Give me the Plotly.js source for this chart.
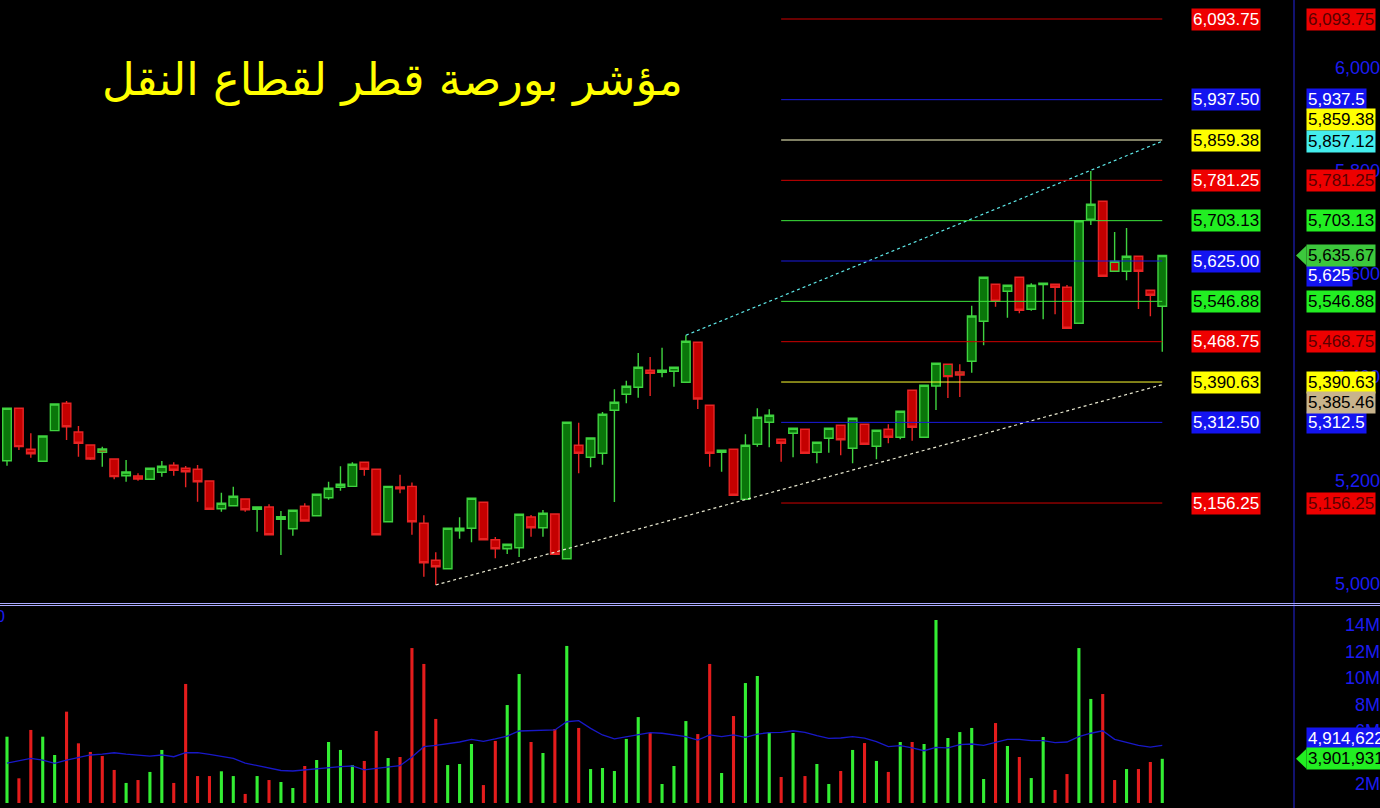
<!DOCTYPE html>
<html><head><meta charset="utf-8">
<script src="https://cdn.plot.ly/plotly-3.0.1.min.js"></script>
<style>html,body{margin:0;padding:0;background:#000;overflow:hidden}#chart{width:1380px;height:808px}</style>
</head><body><div id="chart"></div>
<script>
// ---------------- DATA ----------------
const chartTitle = 'مؤشر بورصة قطر لقطاع النقل';

const openP = [
5238.2,5339.7,5260.3,5237.1,5296.4,5349.4,5293.8,5268.7,5254.5,5241.5,
5209.2,5208.6,5202.2,5215.8,5229.3,5223.5,5221.6,5198.9,5145.3,5151.1,
5164.1,5144.1,5148.6,5124.7,5106.5,5149.9,5131.7,5166.6,5186.7,5188.6,
5235.2,5221.6,5120.1,5187.3,5188.6,5117.0,5045.3,5029.1,5102.7,5107.3,
5157.7,5085.2,5067.8,5069.7,5129.2,5108.5,5135.0,5048.4,5268.1,5244.8,
5252.6,5335.9,5366.9,5380.4,5413.4,5409.5,5411.4,5390.1,5467.6,5345.6,
5254.5,5260.3,5163.5,5270.0,5312.6,5279.7,5291.3,5299.1,5254.5,5281.6,
5306.8,5262.3,5308.7,5266.1,5299.1,5283.6,5374.6,5283.6,5382.9,5425.0,
5410.1,5430.8,5508.3,5579.9,5566.4,5593.5,5531.5,5579.2,5579.9,5574.1,
5504.4,5705.8,5740.7,5605.1,5605.1,5634.2,5568.3,5537.3];
const highP = [
5339.7,5339.7,5291.3,5286.1,5348.1,5353.9,5305.5,5268.7,5265.4,5241.5,
5239.6,5213.8,5223.5,5237.7,5235.2,5228.0,5229.9,5198.9,5176.3,5187.9,
5164.1,5148.6,5153.8,5140.8,5142.2,5155.7,5173.2,5197.6,5227.4,5235.2,
5236.0,5221.6,5188.6,5211.1,5196.1,5132.5,5060.8,5107.3,5128.6,5165.4,
5157.7,5090.5,5076.3,5134.4,5133.1,5142.8,5135.0,5312.6,5311.9,5282.2,
5332.6,5376.6,5393.2,5446.9,5439.1,5457.1,5419.2,5481.1,5467.6,5345.6,
5258.4,5260.3,5289.4,5339.7,5337.8,5279.7,5301.0,5299.1,5273.9,5301.0,
5306.8,5320.4,5308.7,5297.1,5308.7,5333.9,5374.6,5384.3,5426.9,5425.0,
5425.0,5538.5,5593.5,5579.9,5578.0,5593.5,5581.9,5581.9,5579.9,5578.6,
5703.1,5799.4,5740.7,5681.2,5689.0,5634.2,5568.3,5635.67];
const lowP = [
5228.6,5259.0,5244.1,5237.1,5296.4,5278.3,5246.0,5239.6,5226.6,5202.2,
5197.6,5199.5,5202.2,5207.3,5209.2,5186.7,5158.8,5144.1,5139.5,5151.1,
5139.5,5100.7,5094.9,5055.6,5093.0,5120.1,5131.7,5162.7,5180.1,5188.6,
5209.2,5094.9,5120.1,5175.1,5094.9,5013.6,4997.5,5028.0,5087.2,5080.2,
5085.2,5049.2,5057.5,5051.7,5091.0,5091.0,5057.0,5048.4,5213.8,5225.5,
5230.5,5158.3,5349.4,5360.3,5363.6,5399.8,5381.6,5390.1,5338.4,5226.6,
5216.9,5171.2,5163.5,5265.4,5264.2,5236.3,5244.8,5252.6,5233.2,5253.7,
5248.7,5233.2,5270.0,5241.0,5271.9,5279.7,5277.0,5283.6,5336.5,5359.7,
5361.6,5408.7,5461.8,5536.5,5515.2,5523.8,5528.8,5512.1,5521.8,5494.7,
5504.4,5694.8,5595.4,5605.1,5587.7,5532.1,5518.0,5449.4];
const closeP = [
5339.7,5265.4,5251.8,5286.1,5348.1,5304.1,5271.9,5241.5,5260.9,5207.3,
5216.4,5202.8,5223.5,5227.4,5219.6,5216.9,5197.6,5144.1,5155.7,5169.3,
5143.3,5148.6,5094.9,5129.8,5142.2,5121.4,5173.2,5184.8,5192.5,5231.3,
5221.6,5094.9,5188.6,5184.0,5120.1,5040.7,5032.9,5107.3,5107.3,5165.4,
5085.2,5067.8,5076.3,5134.4,5108.5,5136.4,5057.0,5312.6,5252.6,5282.2,
5328.1,5351.4,5382.4,5419.2,5407.5,5413.4,5419.2,5469.5,5357.8,5252.6,
5258.4,5171.2,5268.1,5322.3,5326.2,5271.9,5301.0,5252.6,5273.9,5301.0,
5278.9,5320.4,5270.0,5297.1,5283.6,5333.9,5302.9,5384.3,5426.9,5401.0,
5404.3,5518.5,5593.5,5547.0,5578.0,5529.6,5578.0,5581.9,5574.1,5494.7,
5703.1,5734.9,5595.4,5624.5,5634.2,5605.1,5558.6,5635.67];

// volume in millions
const volumeM = [
5.57,2.43,6.08,5.57,4.19,7.46,5.07,4.42,4.11,3.06,
2.08,2.30,2.91,4.57,2.08,9.55,2.60,2.60,2.96,2.60,
1.25,2.60,2.30,2.15,1.70,3.36,3.81,5.17,4.57,3.43,
3.74,6.00,3.96,4.04,12.26,11.06,6.91,3.43,3.51,5.02,
1.92,5.25,7.96,10.30,5.17,4.34,6.15,12.42,6.23,3.13,
3.21,2.98,5.40,7.05,5.85,2.00,3.36,6.75,5.77,11.06,
2.83,7.13,9.62,10.15,5.92,2.53,5.85,2.60,3.51,2.00,
2.98,4.57,5.09,3.74,2.91,5.17,5.17,5.02,14.38,5.47,
5.92,6.23,2.38,6.60,4.87,4.04,2.45,5.55,1.55,2.75,
12.26,8.42,8.79,2.30,3.13,3.13,3.66,3.901931];
// direction of each session (up / down) as drawn by the volume bars and candle bodies
const sessionDir = [
'u','d','d','u','u','d','d','d','d','d',
'u','d','u','u','d','d','d','d','u','u',
'd','u','d','u','u','d','u','u','u','u',
'd','d','u','d','d','d','d','u','u','u',
'd','d','u','u','d','u','d','u','d','u',
'u','u','u','u','d','u','u','u','d','d',
'u','d','u','u','u','d','u','d','u','u',
'd','u','d','u','d','u','d','u','u','u',
'u','u','u','d','u','d','u','u','d','d',
'u','u','d','d','u','d','d','u'];
// volume moving average (millions)
const volumeMA = [
3.58,3.74,3.94,3.81,3.56,3.81,4.02,4.19,4.26,4.36,
4.26,4.19,4.11,4.19,4.06,4.36,4.36,4.23,4.11,3.94,
3.58,3.40,3.18,3.02,2.98,3.06,3.18,3.25,3.31,3.36,
3.06,3.18,3.28,3.38,4.04,4.82,4.91,5.02,5.17,5.37,
5.22,5.40,5.62,6.00,6.04,6.05,6.08,6.70,6.78,6.20,
5.70,5.40,5.57,5.75,5.87,5.83,5.70,5.57,5.32,5.70,
5.57,5.70,5.52,5.77,5.87,5.90,6.02,5.90,5.65,5.45,
5.47,5.57,5.47,5.19,4.82,4.89,4.72,4.51,4.77,4.72,
4.97,5.02,4.92,5.12,5.37,5.37,5.27,5.27,5.12,5.17,
5.57,5.83,6.02,5.37,5.12,4.92,4.79,4.914622];

const levelValues = [6093.75,5937.50,5859.38,5781.25,5703.13,5625.00,5546.88,5468.75,5390.63,5312.50,5156.25];
const levelStartSession = 65;
const lowerTrendSessions = [36, 97];
const lowerTrendValues = [4997.5, 5385.46];
const upperTrendSessions = [57, 97];
const upperTrendValues = [5481.1, 5857.12];

const priceTicks = [5000, 5200, 5400, 5600, 5800, 6000];
const volumeTicksM = [2, 4, 6, 8, 10, 12, 14];

// ---------------- STYLE / BUILD ----------------
const W = 1380, H = 808;
const sessions = closeP.map((_, i) => i);
const px = v => v / W, py = v => (H - v) / H;
const plotRight = 1294;

const GREEN_LINE = '#3fd23f', GREEN_FILL = '#0a760a';
const RED_LINE = '#e82424', RED_FILL = '#c40000';
const TICK_BLUE = '#1c1cf2';
const FONT = 'Liberation Sans, Arial, sans-serif';
const LBL = 17;

function pick(arr, dir) { return arr.filter((_, i) => sessionDir[i] === dir); }
function candleTrace(dir) {
  const fill = dir === 'u' ? GREEN_FILL : RED_FILL;
  return {
    type: 'candlestick', xaxis: 'x', yaxis: 'y',
    x: pick(sessions, dir), open: pick(openP, dir), high: pick(highP, dir),
    low: pick(lowP, dir), close: pick(closeP, dir),
    increasing: {line: {color: GREEN_LINE, width: 1.4}, fillcolor: fill},
    decreasing: {line: {color: RED_LINE, width: 1.4}, fillcolor: fill},
    whiskerwidth: 0, hoverinfo: 'skip', showlegend: false
  };
}

const traces = [
  candleTrace('u'), candleTrace('d'),
  {type: 'scatter', mode: 'lines', x: lowerTrendSessions, y: lowerTrendValues, xaxis: 'x', yaxis: 'y',
   line: {color: '#e8e8d0', width: 1.2, dash: '3px,3px'}, hoverinfo: 'skip', showlegend: false},
  {type: 'scatter', mode: 'lines', x: upperTrendSessions, y: upperTrendValues, xaxis: 'x', yaxis: 'y',
   line: {color: '#5ee8e8', width: 1.2, dash: '3px,3px'}, hoverinfo: 'skip', showlegend: false},
  {type: 'bar', x: sessions, y: volumeM.map(v => v * 1e6), xaxis: 'x2', yaxis: 'y2', width: 0.26,
   marker: {color: sessionDir.map(d => d === 'u' ? '#33ee33' : '#e41c1c'), line: {width: 0}},
   hoverinfo: 'skip', showlegend: false},
  {type: 'scatter', mode: 'lines', x: sessions, y: volumeMA.map(v => v * 1e6), xaxis: 'x2', yaxis: 'y2',
   line: {color: '#1818c8', width: 1.3}, hoverinfo: 'skip', showlegend: false}
];

// level styles
const levelStyle = {
  6093.75: {line: '#d00000', bg: '#ee0000', fg: '#ffffff', rfg: '#5a0000'},
  5937.50: {line: '#1a1ae0', bg: '#1414f0', fg: '#ffffff', rfg: '#ffffff'},
  5859.38: {line: '#ffffc8', bg: '#ffff00', fg: '#000000', rfg: '#000000'},
  5781.25: {line: '#d00000', bg: '#ee0000', fg: '#ffffff', rfg: '#5a0000'},
  5703.13: {line: '#3ce63c', bg: '#22ee22', fg: '#000000', rfg: '#000000'},
  5625.00: {line: '#1a1ae0', bg: '#1414f0', fg: '#ffffff', rfg: '#ffffff'},
  5546.88: {line: '#3ce63c', bg: '#22ee22', fg: '#000000', rfg: '#000000'},
  5468.75: {line: '#d00000', bg: '#ee0000', fg: '#ffffff', rfg: '#5a0000'},
  5390.63: {line: '#ffff30', bg: '#ffff00', fg: '#000000', rfg: '#000000'},
  5312.50: {line: '#1a1ae0', bg: '#1414f0', fg: '#ffffff', rfg: '#ffffff'},
  5156.25: {line: '#d00000', bg: '#ee0000', fg: '#ffffff', rfg: '#5a0000'}
};
const rightShift = {5859.38: 21, 5625.00: -14};

const shapes = [];
const annotations = [];
const lastSession = sessions[sessions.length - 1];

levelValues.forEach(v => {
  const st = levelStyle[v];
  shapes.push({type: 'line', xref: 'x', yref: 'y', x0: levelStartSession, x1: lastSession, y0: v, y1: v,
               line: {color: st.line, width: 1}});
  annotations.push({xref: 'paper', yref: 'y', x: px(1226), y: v, xanchor: 'center', yanchor: 'middle',
    text: v.toLocaleString('en-US', {minimumFractionDigits: 2, maximumFractionDigits: 2}),
    showarrow: false, bgcolor: st.bg, borderpad: 1, font: {family: FONT, size: LBL, color: st.fg}});
  annotations.push({xref: 'paper', yref: 'y', x: px(1306), y: v, xanchor: 'left', yanchor: 'middle',
    yshift: rightShift[v] || 0,
    text: v.toLocaleString('en-US', {maximumFractionDigits: 2}),
    showarrow: false, bgcolor: st.bg, borderpad: 1, font: {family: FONT, size: LBL, color: st.rfg}});
});

// trend line end values
annotations.push({xref: 'paper', yref: 'y', x: px(1306), y: upperTrendValues[1], xanchor: 'left', yanchor: 'middle',
  text: upperTrendValues[1].toLocaleString('en-US', {maximumFractionDigits: 2}), showarrow: false,
  bgcolor: '#44eeee', borderpad: 1, font: {family: FONT, size: LBL, color: '#000'}});
annotations.push({xref: 'paper', yref: 'y', x: px(1306), y: lowerTrendValues[1], xanchor: 'left', yanchor: 'middle',
  yshift: -18, text: lowerTrendValues[1].toLocaleString('en-US', {maximumFractionDigits: 2}), showarrow: false,
  bgcolor: '#c8b48c', borderpad: 1, font: {family: FONT, size: LBL, color: '#000'}});

// last price (arrow label)
const lastClose = closeP[closeP.length - 1];
annotations.push({xref: 'paper', yref: 'y', x: px(1306), y: lastClose, xanchor: 'left', yanchor: 'middle',
  text: lastClose.toLocaleString('en-US', {maximumFractionDigits: 2}), showarrow: false,
  bgcolor: '#3cc83c', borderpad: 1, font: {family: FONT, size: LBL, color: '#000'}});
shapes.push({type: 'path', xref: 'paper', yref: 'y', xsizemode: 'pixel', ysizemode: 'pixel',
  xanchor: px(1306), yanchor: lastClose, path: 'M-10,0 L0.5,-10 L0.5,10 Z',
  fillcolor: '#3cc83c', line: {width: 0}});

// volume labels
const lastVol = volumeM[volumeM.length - 1] * 1e6;
const lastMA = volumeMA[volumeMA.length - 1] * 1e6;
annotations.push({xref: 'paper', yref: 'y2', x: px(1306), y: lastMA, xanchor: 'left', yanchor: 'middle',
  yshift: 7, text: Math.round(lastMA).toLocaleString('en-US'), showarrow: false,
  bgcolor: '#1414f0', borderpad: 1, font: {family: FONT, size: LBL, color: '#fff'}});
annotations.push({xref: 'paper', yref: 'y2', x: px(1306), y: lastVol, xanchor: 'left', yanchor: 'middle',
  text: Math.round(lastVol).toLocaleString('en-US'), showarrow: false,
  bgcolor: '#22ee22', borderpad: 1, font: {family: FONT, size: LBL, color: '#000'}});
shapes.push({type: 'path', xref: 'paper', yref: 'y2', xsizemode: 'pixel', ysizemode: 'pixel',
  xanchor: px(1306), yanchor: lastVol, path: 'M-10,0 L0.5,-10 L0.5,10 Z',
  fillcolor: '#22ee22', line: {width: 0}});

// title
annotations.push({xref: 'paper', yref: 'paper', x: px(100), y: py(80), xanchor: 'left', yanchor: 'middle',
  text: chartTitle, showarrow: false, font: {family: 'DejaVu Sans, Noto Sans, sans-serif', size: 45, color: '#ffff00'}});
// partial label at left of volume pane
annotations.push({xref: 'paper', yref: 'paper', x: 0, y: py(616), xanchor: 'center', yanchor: 'middle',
  text: '0', showarrow: false, font: {family: FONT, size: 16, color: TICK_BLUE}});

// axis line and pane separators
shapes.push({type: 'line', xref: 'paper', yref: 'paper', x0: px(plotRight), x1: px(plotRight), y0: 0, y1: 1,
  line: {color: '#2424e0', width: 1}});
shapes.push({type: 'line', xref: 'paper', yref: 'paper', x0: 0, x1: 1, y0: py(603.5), y1: py(603.5), line: {color: '#aaaaff', width: 1}});
shapes.push({type: 'line', xref: 'paper', yref: 'paper', x0: 0, x1: 1, y0: py(605.5), y1: py(605.5), line: {color: '#aaaaff', width: 1}});

const slot = 11.91, firstX = 7;
const xr = [(0 - firstX) / slot, (plotRight - firstX) / slot];
const pxPerPt = 0.5163, y5000 = 583.7;
const yr = [5000 - (603 - y5000) / pxPerPt, 5000 + y5000 / pxPerPt];
const pxPerM = 13.25, yZeroVol = 810.5;
const vr = [(yZeroVol - 803) / pxPerM * 1e6, (yZeroVol - 607) / pxPerM * 1e6];

const layout = {
  width: W, height: H, margin: {l: 0, r: 0, t: 0, b: 0},
  paper_bgcolor: '#000', plot_bgcolor: '#000', showlegend: false, dragmode: false,
  xaxis: {domain: [0, px(plotRight)], range: xr, showticklabels: false, showgrid: false, zeroline: false,
          rangeslider: {visible: false}, anchor: 'y', fixedrange: true},
  xaxis2: {domain: [0, px(plotRight)], range: xr, showticklabels: false, showgrid: false, zeroline: false,
           anchor: 'y2', matches: 'x', fixedrange: true},
  yaxis: {domain: [py(603), 1], range: yr, anchor: 'free', position: 1, side: 'left',
          tickvals: priceTicks, ticktext: priceTicks.map(v => v.toLocaleString('en-US')),
          ticks: '', showgrid: false, zeroline: false, fixedrange: true,
          tickfont: {family: FONT, size: 18, color: TICK_BLUE}},
  yaxis2: {domain: [py(803), py(607)], range: vr, anchor: 'free', position: 1, side: 'left',
           tickvals: volumeTicksM.map(v => v * 1e6), ticktext: volumeTicksM.map(v => v + 'M'),
           ticks: '', showgrid: false, zeroline: false, fixedrange: true,
           tickfont: {family: FONT, size: 18, color: TICK_BLUE}},
  shapes: shapes, annotations: annotations,
  boxgap: 0.28, boxgroupgap: 0
};

Plotly.newPlot('chart', traces, layout, {staticPlot: true, displayModeBar: false});
</script></body></html>
